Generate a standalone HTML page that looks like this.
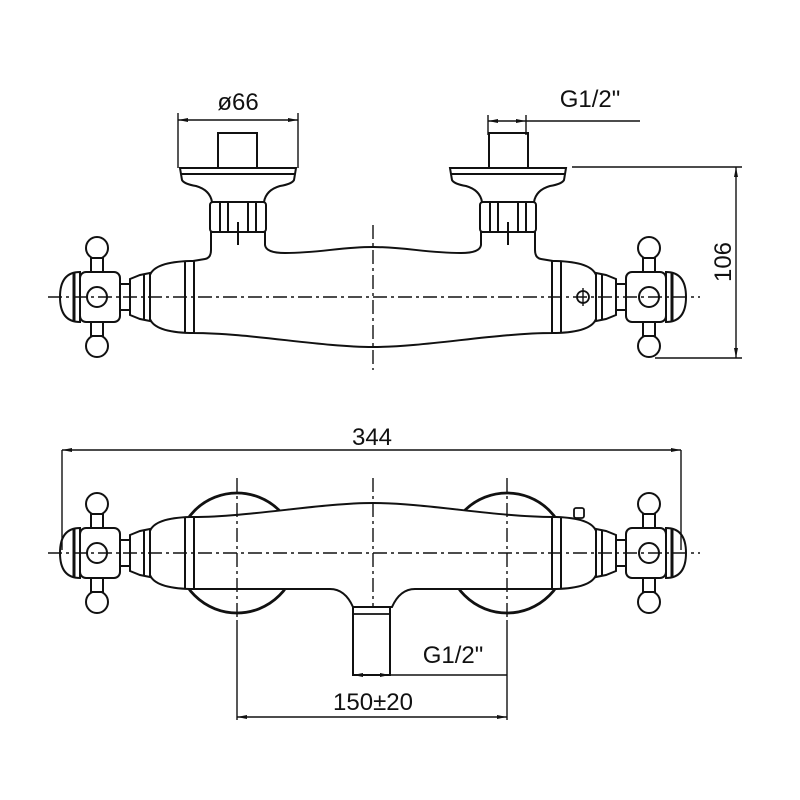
<!DOCTYPE html>
<html><head><meta charset="utf-8"><style>
html,body{margin:0;padding:0;background:#fff}
svg{display:block}
text{font-family:"Liberation Sans",sans-serif;fill:#111}
</style></head><body>
<svg width="800" height="800" viewBox="0 0 800 800" xmlns="http://www.w3.org/2000/svg">
<defs>
<g id="handle" fill="#fff" stroke="#111" stroke-width="2">
  <circle cx="97" cy="-49" r="11"/>
  <circle cx="97" cy="49" r="11"/>
  <rect x="91" y="-39" width="12" height="14"/>
  <rect x="91" y="25" width="12" height="14"/>
  <path d="M80,-25 Q60,-25 60,0 Q60,25 80,25 Z"/>
  <line x1="74" y1="-24" x2="74" y2="24" stroke-width="3"/>
  <rect x="80" y="-25" width="40" height="50" rx="6"/>
  <circle cx="97" cy="0" r="10"/>
  <rect x="120" y="-13" width="10" height="26"/>
  <path d="M130,-18 L140,-22 L150,-24 L150,24 L140,22 L130,18 Z"/>
  <line x1="144" y1="-23" x2="144" y2="23"/>
  <path d="M150,-22 Q155,-35 190,-36 L194,-36 L194,36 L190,36 Q155,35 150,22 Z"/>
  <line x1="185" y1="-36" x2="185" y2="36"/>
</g>
<g id="neck" fill="#fff" stroke="#111" stroke-width="2">
  <rect x="218" y="133" width="39" height="35"/>
  <path d="M212,202 Q210,190 196,186 Q184,184 182,180 L180,168 L296,168 L294,180 Q292,184 280,186 Q266,190 264,202 Z"/>
  <line x1="181" y1="174" x2="295" y2="174"/>
  <rect x="210" y="202" width="56" height="30" rx="3"/>
  <line x1="220" y1="203" x2="220" y2="231"/>
  <line x1="228" y1="203" x2="228" y2="231"/>
  <line x1="248" y1="203" x2="248" y2="231"/>
  <line x1="256" y1="203" x2="256" y2="231"/>
  <line x1="238" y1="222" x2="238" y2="245"/>
</g>
</defs>

<path d="M193,261 L205,259 Q211,258 211,250 L211,232 L265,232 L265,245 Q266,253 285,253 C320,253 340,247 373,247 C406,247 426,253 461,253 Q480,253 481,245 L481,232 L535,232 L535,250 Q535,258 541,259 L553,261 L553,333 C496,333 426,347 373,347 C320,347 250,333 193,333 Z" fill="#fff" stroke="#111" stroke-width="2"/>
<use href="#neck"/>
<use href="#neck" transform="translate(746,0) scale(-1,1)"/>
<g transform="translate(0,297)"><use href="#handle"/></g>
<g transform="translate(746,297) scale(-1,1)"><use href="#handle"/></g>
<circle cx="583" cy="297" r="6" fill="#fff" stroke="#111" stroke-width="1.8"/>
<line x1="583" y1="288" x2="583" y2="306" stroke="#111" stroke-width="1.4"/>
<g stroke="#111" stroke-width="1.4" stroke-dasharray="14,4,3,4" fill="none">
  <line x1="48" y1="297" x2="700" y2="297"/>
  <line x1="373" y1="225" x2="373" y2="370"/>
</g>
<g stroke="#111" stroke-width="1.4" fill="none">
  <line x1="178" y1="113" x2="178" y2="168"/>
  <line x1="298" y1="113" x2="298" y2="168"/>
  <line x1="178" y1="120" x2="298" y2="120"/>
  <line x1="488" y1="115" x2="488" y2="135"/>
  <line x1="526" y1="115" x2="526" y2="135"/>
  <line x1="488" y1="121" x2="640" y2="121"/>
  <line x1="572" y1="167" x2="742" y2="167"/>
  <line x1="655" y1="358" x2="742" y2="358"/>
  <line x1="736" y1="167" x2="736" y2="358"/>
</g>
<g fill="#111">
  <path d="M178,120 l10,-2 v4z M298,120 l-10,-2 v4z M488,121 l10,-2 v4z M526,121 l-10,-2 v4z M736,167 l-2,10 h4z M736,358 l-2,-10 h4z"/>
</g>
<text x="238" y="110" font-size="24" text-anchor="middle">ø66</text>
<text x="590" y="107" font-size="24" text-anchor="middle">G1/2"</text>
<text x="731" y="262" font-size="24" text-anchor="middle" transform="rotate(-90 731 262)">106</text>

<circle cx="237" cy="553" r="60" fill="none" stroke="#111" stroke-width="2.8"/>
<circle cx="507" cy="553" r="60" fill="none" stroke="#111" stroke-width="2.8"/>
<rect x="574" y="508" width="10" height="10" rx="2" fill="#fff" stroke="#111" stroke-width="1.8"/>
<path d="M193,517 C250,517 320,503 373,503 C426,503 496,517 553,517 L553,589 L415,589 Q400,589 392,607 L353,607 Q345,589 330,589 L193,589 Z" fill="#fff" stroke="#111" stroke-width="2"/>
<rect x="353" y="607" width="37" height="68" fill="#fff" stroke="#111" stroke-width="2"/>
<line x1="353" y1="614" x2="390" y2="614" stroke="#111" stroke-width="1.8"/>
<g transform="translate(0,553)"><use href="#handle"/></g>
<g transform="translate(746,553) scale(-1,1)"><use href="#handle"/></g>
<g stroke="#111" stroke-width="1.4" stroke-dasharray="14,4,3,4" fill="none">
  <line x1="48" y1="553" x2="700" y2="553"/>
  <line x1="373" y1="478" x2="373" y2="607"/>
  <line x1="237" y1="478" x2="237" y2="620"/>
  <line x1="507" y1="478" x2="507" y2="620"/>
</g>
<g stroke="#111" stroke-width="1.4" fill="none">
  <line x1="62" y1="450" x2="681" y2="450"/>
  <line x1="62" y1="450" x2="62" y2="550"/>
  <line x1="681" y1="450" x2="681" y2="550"/>
  <line x1="237" y1="620" x2="237" y2="720"/>
  <line x1="507" y1="620" x2="507" y2="720"/>
  <line x1="237" y1="717" x2="507" y2="717"/>
  <line x1="353" y1="675" x2="507" y2="675"/>
</g>
<g fill="#111">
  <path d="M62,450 l10,-2 v4z M681,450 l-10,-2 v4z M237,717 l10,-2 v4z M507,717 l-10,-2 v4z M353,675 l10,-2 v4z M390,675 l-10,-2 v4z"/>
</g>
<text x="372" y="445" font-size="24" text-anchor="middle">344</text>
<text x="453" y="663" font-size="24" text-anchor="middle">G1/2"</text>
<text x="373" y="710" font-size="24" text-anchor="middle">150±20</text>
</svg>
</body></html>
